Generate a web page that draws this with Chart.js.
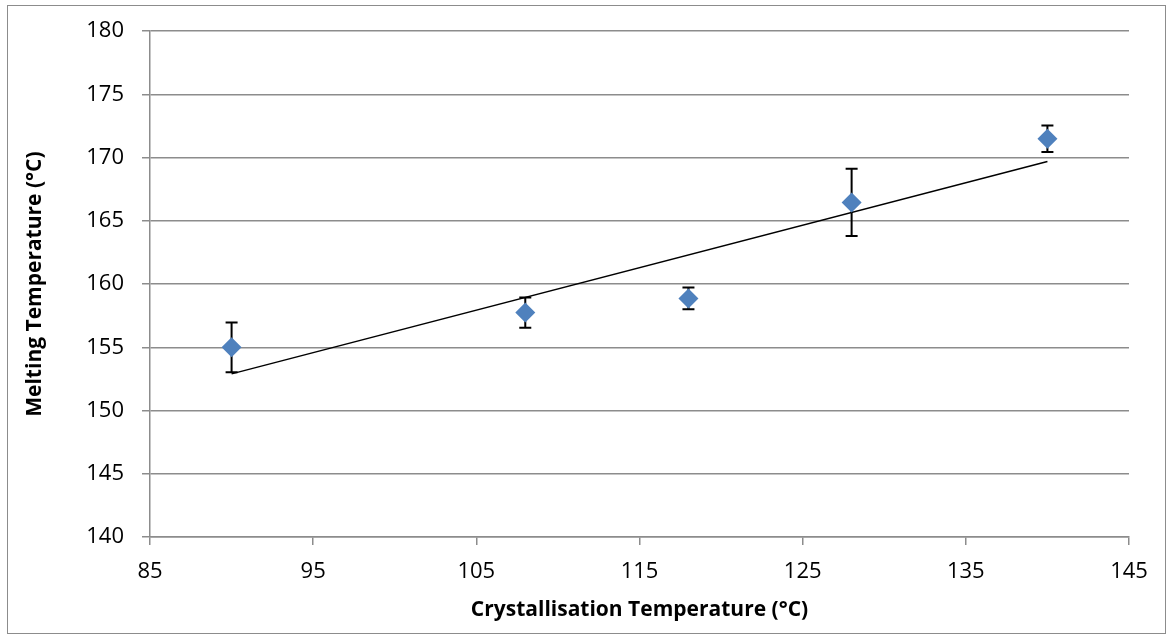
<!DOCTYPE html>
<html>
<head>
<meta charset="utf-8">
<title>Melting vs Crystallisation Temperature</title>
<script src="https://cdn.jsdelivr.net/npm/chart.js@4/dist/chart.umd.min.js"></script>
<style>
  html, body { margin: 0; padding: 0; background: #fff; }
  #meltChart { display: block; }
</style>
</head>
<body>
<canvas id="meltChart" width="1172" height="640"></canvas>
<script>
// crystallisation temperature (°C) vs measured melting temperature (°C)
const crystTemps = [90, 108, 118, 128, 140];
const meltTemps = [155.0, 157.75, 158.87, 166.46, 171.5];
const meltErrors = [1.97, 1.2, 0.86, 2.66, 1.05];

// linear trend line end points
const trendX = [90, 140];
const trendY = [152.9, 169.7];

const xTicks = [85, 95, 105, 115, 125, 135, 145];
const yTicks = [140, 145, 150, 155, 160, 165, 170, 175, 180];

const gridGrey = "#8c8c8c";
const fontFamily = "'Open Sans', 'Liberation Sans', sans-serif";

const scatterPoints = crystTemps.map((x, i) => ({ x: x, y: meltTemps[i] }));
const trendPoints = trendX.map((x, i) => ({ x: x, y: trendY[i] }));

// vertical error bars with caps, drawn under the markers
const errorBars = {
  id: "errorBars",
  beforeDatasetsDraw(chart) {
    const { ctx, scales } = chart;
    const xs = scales.x;
    const ys = scales.y;
    ctx.save();
    ctx.strokeStyle = "#000";
    ctx.lineWidth = 2;
    crystTemps.forEach((x, i) => {
      const px = xs.getPixelForValue(x);
      const top = ys.getPixelForValue(meltTemps[i] + meltErrors[i]);
      const bottom = ys.getPixelForValue(meltTemps[i] - meltErrors[i]);
      ctx.beginPath();
      ctx.moveTo(px, top);
      ctx.lineTo(px, bottom);
      ctx.moveTo(px - 6, top);
      ctx.lineTo(px + 6, top);
      ctx.moveTo(px - 6, bottom);
      ctx.lineTo(px + 6, bottom);
      ctx.stroke();
    });
    ctx.restore();
  },
};

// thin frame around the whole chart
const chartFrame = {
  id: "chartFrame",
  beforeDraw(chart) {
    const ctx = chart.ctx;
    ctx.save();
    ctx.fillStyle = "#fff";
    ctx.fillRect(0, 0, chart.width, chart.height);
    ctx.strokeStyle = "#8c8c8c";
    ctx.lineWidth = 1;
    ctx.strokeRect(7.5, 5.5, 1158, 628);
    ctx.restore();
  },
};

new Chart(document.getElementById("meltChart"), {
  type: "scatter",
  data: {
    datasets: [
      {
        label: "Melting Temperature",
        data: scatterPoints,
        pointStyle: "rectRot",
        pointRadius: 10,
        pointHoverRadius: 10,
        backgroundColor: "#4f81bd",
        borderColor: "#4f81bd",
        borderWidth: 0,
        order: 0,
      },
      {
        label: "Linear trend",
        type: "line",
        data: trendPoints,
        borderColor: "#000",
        borderWidth: 1.5,
        pointRadius: 0,
        fill: false,
        order: 1,
      },
    ],
  },
  options: {
    responsive: false,
    animation: false,
    layout: {
      padding: { top: 31, right: 43, bottom: 0, left: 0 },
    },
    plugins: {
      legend: { display: false },
      tooltip: { enabled: false },
    },
    scales: {
      x: {
        type: "linear",
        min: 85,
        max: 145,
        afterFit(scale) {
          scale.height = 103;
        },
        afterBuildTicks(scale) {
          scale.ticks = xTicks.map((v) => ({ value: v }));
        },
        grid: {
          drawOnChartArea: false,
          drawTicks: true,
          tickLength: 8,
          color: gridGrey,
          lineWidth: 1.5,
        },
        border: { display: true, color: gridGrey, width: 1.5 },
        ticks: {
          padding: 14,
          color: "#000",
          font: { family: fontFamily, size: 22 },
        },
        title: {
          display: true,
          text: "Crystallisation Temperature (°C)",
          color: "#000",
          padding: { top: 0, bottom: 17 },
          font: { family: fontFamily, size: 21, weight: "bold" },
        },
      },
      y: {
        type: "linear",
        min: 140,
        max: 180,
        afterFit(scale) {
          scale.width = 150;
        },
        afterBuildTicks(scale) {
          scale.ticks = yTicks.map((v) => ({ value: v }));
        },
        grid: {
          drawTicks: true,
          tickLength: 8,
          color: gridGrey,
          lineWidth: 1.5,
        },
        border: { display: true, color: gridGrey, width: 1.5 },
        ticks: {
          padding: 18,
          color: "#000",
          font: { family: fontFamily, size: 22 },
        },
        title: {
          display: true,
          text: "Melting Temperature (°C)",
          color: "#000",
          padding: { top: 22, bottom: 0 },
          font: { family: fontFamily, size: 21, weight: "bold" },
        },
      },
    },
  },
  plugins: [chartFrame, errorBars],
});
</script>
</body>
</html>
